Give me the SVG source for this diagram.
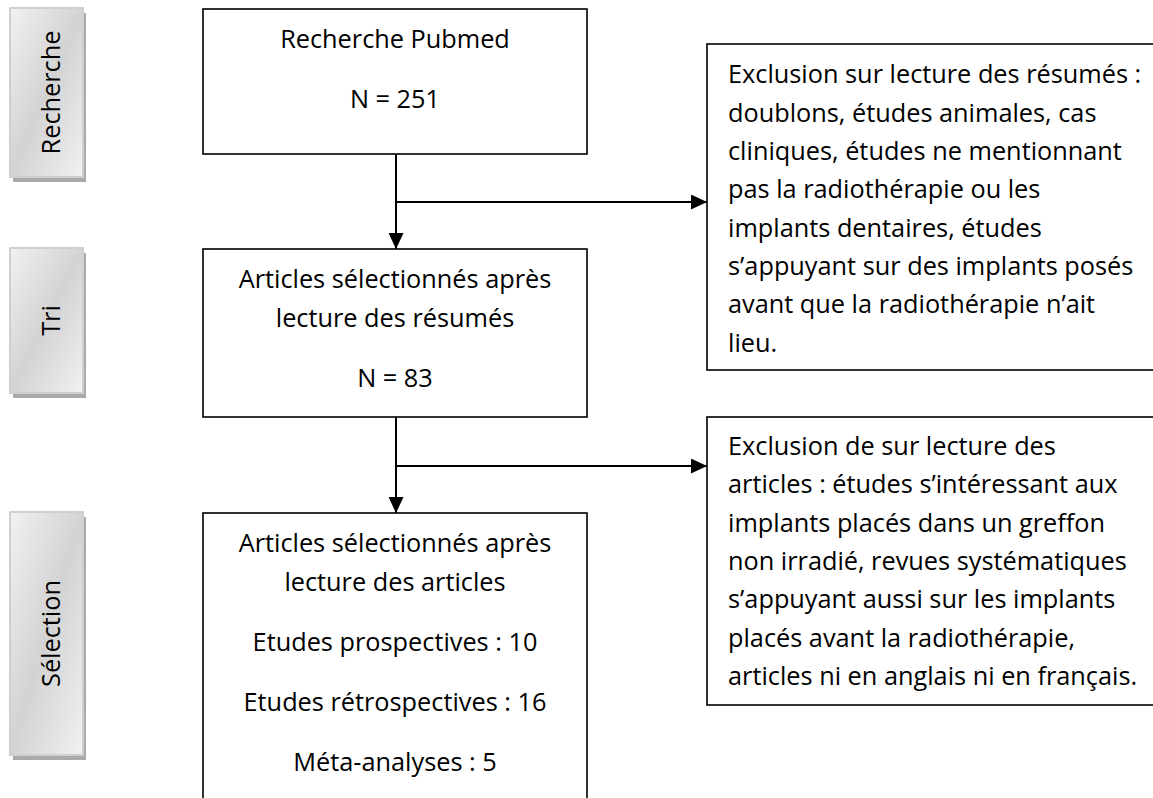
<svg xmlns="http://www.w3.org/2000/svg" width="1153" height="798" viewBox="0 0 1153 798">
<style>
.t{font-family:"Open Sans","Liberation Sans",sans-serif;font-size:25.3px;fill:#000}
.c{text-anchor:middle}
.box{fill:#fff;stroke:#000;stroke-width:1.6}
.side{fill:url(#g);stroke:#cfcfcf;stroke-width:2}
.sh{fill:#aaaaaa}
.ln{fill:none;stroke:#000;stroke-width:2}
</style>
<defs>
<linearGradient id="g" x1="0" y1="0" x2="1" y2="1">
<stop offset="0" stop-color="#f1f1f1"/>
<stop offset="0.5" stop-color="#d3d3d3"/>
<stop offset="1" stop-color="#f1f1f1"/>
</linearGradient>
<marker id="ah" viewBox="0 0 16 15" refX="16" refY="7.5" markerWidth="16" markerHeight="15" markerUnits="userSpaceOnUse" orient="auto">
<path d="M0,0 L16,7.5 L0,15 Z" fill="#000"/>
</marker>
</defs>

<g id="side-recherche">
<rect class="sh" x="13" y="13" width="73" height="169"/>
<rect class="side" x="10" y="8" width="73" height="169"/>
<text class="t c" transform="translate(60,92.5) rotate(-90)">Recherche</text>
</g>
<g id="side-tri">
<rect class="sh" x="13" y="253" width="73" height="145"/>
<rect class="side" x="10" y="248" width="73" height="145"/>
<text class="t c" transform="translate(60,320.5) rotate(-90)">Tri</text>
</g>
<g id="side-selection">
<rect class="sh" x="13" y="517" width="73" height="243"/>
<rect class="side" x="10" y="512" width="73" height="243"/>
<text class="t c" transform="translate(60,633.5) rotate(-90)">Sélection</text>
</g>

<g id="connectors">
<line class="ln" x1="396" y1="154" x2="396" y2="249" marker-end="url(#ah)"/>
<line class="ln" x1="396" y1="202" x2="707" y2="202" marker-end="url(#ah)"/>
<line class="ln" x1="396" y1="417" x2="396" y2="513" marker-end="url(#ah)"/>
<line class="ln" x1="396" y1="466" x2="707" y2="466" marker-end="url(#ah)"/>
</g>

<g id="box-recherche">
<rect class="box" x="203" y="9" width="384" height="145"/>
<text class="t c" x="395" y="48">Recherche Pubmed</text>
<text class="t c" x="395" y="108">N = 251</text>
</g>

<g id="box-tri">
<rect class="box" x="203" y="249" width="384" height="168"/>
<text class="t c" x="395" y="288">Articles sélectionnés après</text>
<text class="t c" x="395" y="327">lecture des résumés</text>
<text class="t c" x="395" y="387">N = 83</text>
</g>

<g id="box-selection">
<rect class="box" x="203" y="513" width="384" height="300"/>
<text class="t c" x="395" y="552">Articles sélectionnés après</text>
<text class="t c" x="395" y="591">lecture des articles</text>
<text class="t c" x="395" y="651">Etudes prospectives : 10</text>
<text class="t c" x="395" y="711">Etudes rétrospectives : 16</text>
<text class="t c" x="395" y="771">Méta-analyses : 5</text>
</g>

<g id="box-exclusion-1">
<rect class="box" x="707" y="44" width="460" height="326"/>
<text class="t" x="728" y="83.3">Exclusion sur lecture des résumés :</text>
<text class="t" x="728" y="121.7">doublons, études animales, cas</text>
<text class="t" x="728" y="160">cliniques, études ne mentionnant</text>
<text class="t" x="728" y="198.3">pas la radiothérapie ou les</text>
<text class="t" x="728" y="236.7">implants dentaires, études</text>
<text class="t" x="728" y="275">s’appuyant sur des implants posés</text>
<text class="t" x="728" y="313.3">avant que la radiothérapie n’ait</text>
<text class="t" x="728" y="351.7">lieu.</text>
</g>

<g id="box-exclusion-2">
<rect class="box" x="707" y="417" width="460" height="288"/>
<text class="t" x="728" y="455">Exclusion de sur lecture des</text>
<text class="t" x="728" y="493.3">articles : études s’intéressant aux</text>
<text class="t" x="728" y="531.7">implants placés dans un greffon</text>
<text class="t" x="728" y="570">non irradié, revues systématiques</text>
<text class="t" x="728" y="608.3">s’appuyant aussi sur les implants</text>
<text class="t" x="728" y="646.7">placés avant la radiothérapie,</text>
<text class="t" x="728" y="685">articles ni en anglais ni en français.</text>
</g>
</svg>
